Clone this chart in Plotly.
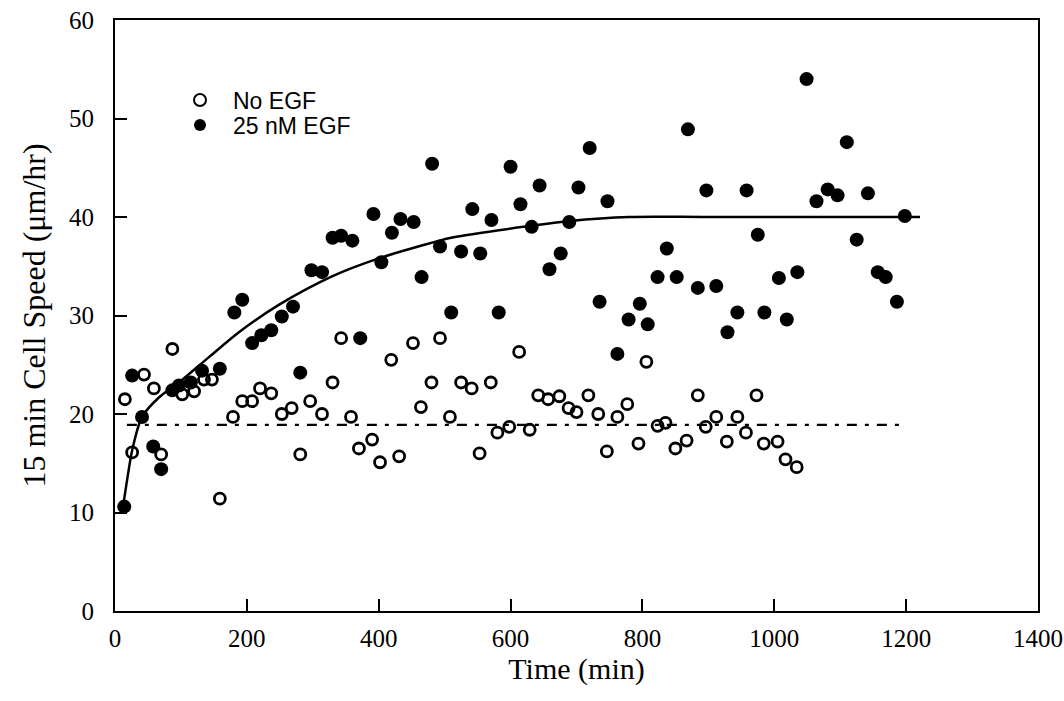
import plotly.graph_objects as go

# No EGF (open circles)
noegf_t = [15, 26, 44, 59, 70, 87, 102, 120, 135, 147, 159, 179, 193, 208, 220, 237, 253, 268, 281,
           296, 314, 330, 343, 358, 370, 390, 402, 419, 431, 452, 464, 480, 493, 508, 525, 541, 553,
           570, 580, 598, 613, 629, 642, 657, 674, 688, 700, 718, 733, 746, 762, 777, 794, 806, 823,
           835, 850, 867, 884, 896, 912, 928, 944, 957, 973, 984, 1005, 1017, 1034]
noegf_v = [21.5, 16.1, 24.0, 22.6, 15.9, 26.6, 22.0, 22.3, 23.5, 23.5, 11.4, 19.7, 21.3, 21.3, 22.6,
           22.1, 20.0, 20.6, 15.9, 21.3, 20.0, 23.2, 27.7, 19.7, 16.5, 17.4, 15.1, 25.5, 15.7, 27.2,
           20.7, 23.2, 27.7, 19.7, 23.2, 22.6, 16.0, 23.2, 18.1, 18.7, 26.3, 18.4, 21.9, 21.5, 21.8,
           20.6, 20.2, 21.9, 20.0, 16.2, 19.7, 21.0, 17.0, 25.3, 18.8, 19.1, 16.5, 17.3, 21.9, 18.7,
           19.7, 17.2, 19.7, 18.1, 21.9, 17.0, 17.2, 15.4, 14.6]

# 25 nM EGF (filled circles)
egf_t = [14, 26, 41, 58, 70, 87, 97, 115, 132, 159, 181, 193, 208, 222, 237, 253, 270, 281, 298,
         314, 330, 343, 360, 372, 392, 404, 420, 433, 453, 465, 481, 493, 510, 525, 542, 554, 571,
         582, 600, 615, 632, 644, 659, 676, 689, 703, 720, 735, 747, 762, 779, 796, 808, 823, 837,
         852, 869, 884, 897, 912, 929, 944, 958, 975, 985, 1007, 1019, 1035, 1049, 1064, 1081,
         1096, 1110, 1125, 1142, 1157, 1169, 1186, 1198]
egf_v = [10.6, 23.9, 19.7, 16.7, 14.4, 22.4, 22.9, 23.2, 24.4, 24.6, 30.3, 31.6, 27.2, 28.0, 28.5,
         29.9, 30.9, 24.2, 34.6, 34.4, 37.9, 38.1, 37.6, 27.7, 40.3, 35.4, 38.4, 39.8, 39.5, 33.9,
         45.4, 37.0, 30.3, 36.5, 40.8, 36.3, 39.7, 30.3, 45.1, 41.3, 39.0, 43.2, 34.7, 36.3, 39.5,
         43.0, 47.0, 31.4, 41.6, 26.1, 29.6, 31.2, 29.1, 33.9, 36.8, 33.9, 48.9, 32.8, 42.7, 33.0,
         28.3, 30.3, 42.7, 38.2, 30.3, 33.8, 29.6, 34.4, 54.0, 41.6, 42.8, 42.2, 47.6, 37.7, 42.4,
         34.4, 33.9, 31.4, 40.1]

# fitted curve
fit_t = [12, 20, 26, 41, 67, 97, 143, 188, 249, 330, 400, 460, 510, 630, 690, 780, 900, 1221]
fit_v = [10.5, 14.0, 16.3, 19.7, 21.7, 23.2, 25.8, 28.3, 31.1, 34.0, 35.8, 37.0, 37.9, 39.1, 39.6, 40.0, 40.0, 40.0]

# baseline (dashed)
base_t = [18, 1193]
base_v = [18.9, 18.9]

SERIF = "Liberation Serif, Times New Roman, serif"
SANS = "Liberation Sans, Arial, sans-serif"

fig = go.Figure()
fig.add_trace(go.Scatter(x=fit_t, y=fit_v, mode="lines", line=dict(color="black", width=2.5, shape="spline", smoothing=0.8),
                         showlegend=False, hoverinfo="skip"))
fig.add_trace(go.Scatter(x=base_t, y=base_v, mode="lines", line=dict(color="black", width=2.2, dash="10px,8px,4px,8px"),
                         showlegend=False, hoverinfo="skip"))
fig.add_trace(go.Scatter(x=noegf_t, y=noegf_v, mode="markers", name="No EGF", legend="legend",
                         marker=dict(symbol="circle-open", size=11, color="black", line=dict(width=2.8, color="black"))))
fig.add_trace(go.Scatter(x=egf_t, y=egf_v, mode="markers", name="25 nM EGF", legend="legend2",
                         marker=dict(symbol="circle", size=14, color="black", line=dict(width=0))))

axis_common = dict(showline=True, linecolor="black", linewidth=2, mirror=True, ticks="inside", ticklen=12,
                   tickwidth=1.5, tickcolor="black", showgrid=False, zeroline=False, automargin=False,
                   tickfont=dict(family=SERIF, size=25, color="black"))

leg_common = dict(xanchor="left", yanchor="middle", bgcolor="rgba(0,0,0,0)", itemwidth=56,
                  font=dict(family=SANS, size=23, color="black"), itemsizing="constant")

L, R, T, B = 115, 26, 20, 90
PW, PH = 1064 - L - R, 701 - T - B

fig.update_layout(
    width=1064, height=701,
    paper_bgcolor="white", plot_bgcolor="white",
    margin=dict(l=L, r=R, t=T, b=B),
    xaxis=dict(range=[0, 1400], dtick=200, ticklabelstandoff=4,
               title=dict(text="Time (min)", standoff=0, font=dict(family=SERIF, size=30, color="black")), **axis_common),
    yaxis=dict(range=[0, 60], dtick=10, ticklabelstandoff=14,
               title=dict(text="15 min Cell Speed (μm/hr)", standoff=14, font=dict(family=SERIF, size=32, color="black")), **axis_common),
    legend=dict(x=(167 - L) / PW, y=(611 - 100) / PH, **leg_common),
    legend2=dict(x=(167 - L) / PW, y=(611 - 125) / PH, **leg_common),
)

fig.write_html("out.html", config={"displayModeBar": False},
               post_script="document.body.style.margin='0';document.body.style.overflow='hidden';")
